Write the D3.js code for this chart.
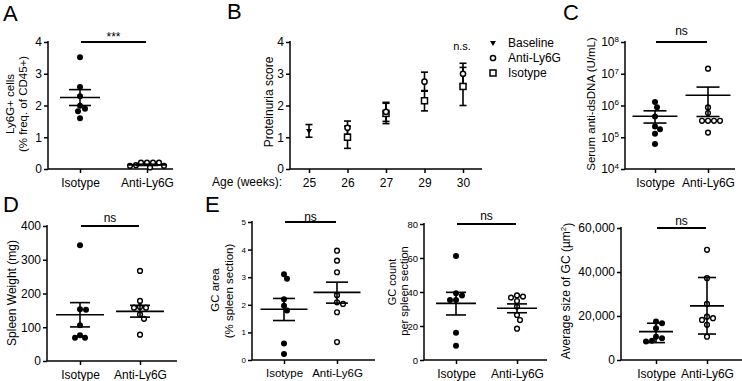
<!DOCTYPE html>
<html>
<head>
<meta charset="utf-8">
<script src="https://cdn.jsdelivr.net/npm/d3@7"></script>
<style>
  body { margin: 0; background: #fff; }
  text { font-family: Arial, "Liberation Sans", sans-serif; fill: #000; }
</style>
</head>
<body>
<svg id="fig" width="742" height="381"></svg>
<script>
// ---- data ----
const groups = ["Isotype", "Anti-Ly6G"];

// A: Ly6G+ cells (% of CD45+)
const ly6gIso = [3.52, 2.58, 2.29, 1.99, 1.9, 1.82, 1.6];
const ly6gAnti = [0.2, 0.2, 0.12, 0.1, 0.05, 0.1, 0.2, 0.2];
const ly6gMean = [2.25, 0.13];
const ly6gErr = [[2.0, 2.5], [0.11, 0.15]];

// B: proteinuria score by age
const weeks = ["25", "26", "27", "29", "30"];
const baselineMean = [1.2, null, null, null, null];
const baselineErr = [0.2, null, null, null, null];
const antiMean = [null, 1.3, 1.8, 2.75, 3.0];
const antiErr = [null, 0.21, 0.3, 0.3, 0.33];
const isoMean = [null, 1.0, 1.75, 2.15, 2.6];
const isoErr = [null, 0.35, 0.32, 0.32, 0.6];

// C: serum anti-dsDNA (U/mL)
const dsdnaIso = [1.3e6, 8.8e5, 4.5e5, 1.8e5, 2.2e5, 1.3e5, 6.1e4];
const dsdnaAnti = [1.45e7, 8.7e5, 5.8e5, 3.3e5, 3.3e5, 3.3e5, 3.3e5, 1.4e5];
const dsdnaMean = [4.6e5, 2.1e6];
const dsdnaErr = [[2.8e5, 6.8e5], [4.5e5, 3.8e6]];

// D: spleen weight (mg)
const spleenIso = [343, 152, 153, 106, 76, 69, 69];
const spleenAnti = [267, 178, 158, 158, 160, 138, 125, 78];
const spleenMean = [137, 147];
const spleenErr = [[101, 173], [130, 165]];

// E: GC area (% spleen section)
const gcAreaIso = [2.94, 3.11, 2.2, 1.79, 1.97, 0.6, 0.22];
const gcAreaAnti = [3.96, 3.6, 3.18, 2.35, 2.09, 2.03, 1.73, 0.65];
const gcAreaMean = [1.84, 2.45];
const gcAreaErr = [[1.43, 2.23], [2.06, 2.82]];

// E: GC count per spleen section
const gcCountIso = [61.2, 38, 39.2, 35.3, 35.3, 16, 8.4];
const gcCountAnti = [38, 36.7, 34.7, 37.3, 31.4, 26.5, 23.5, 18.4];
const gcCountMean = [33.3, 30.4];
const gcCountErr = [[26.5, 39.8], [27.8, 33]];

// E: average GC size (um^2)
const gcSizeIso = [16700, 17500, 14400, 10600, 9900, 8800, 8400];
const gcSizeAnti = [50100, 37200, 25500, 18200, 19700, 19000, 16000, 10600];
const gcSizeMean = [12900, 24600];
const gcSizeErr = [[7900, 16700], [11800, 37500]];

const svg = d3.select("#fig");

function styleAxis(g, fontSize) {
  g.selectAll("path.domain").remove();
  g.selectAll("line").attr("stroke", "#000").attr("stroke-width", 1.5);
  g.selectAll("text").attr("font-size", fontSize).attr("fill", "#000")
    .attr("font-family", "Arial, 'Liberation Sans', sans-serif");
}

// simple dodge so points sit side by side
function dodge(values, y, cx, minDist) {
  const order = values.map((v, i) => i).sort((a, b) => values[b] - values[a]);
  const placed = [];
  const out = [];
  for (const i of order) {
    const py = y(values[i]);
    let dx = 0;
    for (let k = 0; k < 80; k++) {
      const c = k === 0 ? 0 : (k % 2 ? 1 : -1) * Math.ceil(k / 2);
      if (placed.every(p => Math.hypot(p.x - c, p.y - py) >= minDist)) { dx = c; break; }
    }
    placed.push({ x: dx, y: py });
    out[i] = cx + dx;
  }
  return out;
}

function yTitle(x, cy, lines, size) {
  lines.forEach((t, i) => {
    const tx = svg.append("text")
      .attr("transform", `translate(${x[i]},${cy[i]}) rotate(-90)`)
      .attr("text-anchor", "middle")
      .attr("font-size", size);
    if (typeof t === "string") tx.text(t);
    else t(tx);
  });
}

function dotPanel(p) {
  const y = (p.log ? d3.scaleLog() : d3.scaleLinear()).domain(p.domain).range([p.bottom, p.top]);
  const x = d3.scalePoint().domain(groups).range(p.cats);

  // y axis
  const ya = svg.append("g").attr("transform", `translate(${p.x0},0)`)
    .call(d3.axisLeft(y).tickValues(p.ticks).tickSize(4).tickPadding(2).tickFormat(p.fmt || d3.format("d")));
  styleAxis(ya, p.tickFont);
  if (p.log) {
    ya.selectAll("text").text(null).each(function (d) {
      const t = d3.select(this);
      t.append("tspan").text("10");
      t.append("tspan").attr("dy", "-0.55em").attr("font-size", 8).text(Math.round(Math.log10(d)));
    });
  }
  svg.append("line").attr("x1", p.x0).attr("x2", p.x0).attr("y1", p.top - 1).attr("y2", p.bottom)
    .attr("stroke", "#000").attr("stroke-width", 1.5);

  // x axis
  const xa = svg.append("g").attr("transform", `translate(0,${p.bottom})`)
    .call(d3.axisBottom(x).tickSize(4).tickPadding(5));
  styleAxis(xa, p.catFont || 12);
  svg.append("line").attr("x1", p.x0).attr("x2", p.xEnd).attr("y1", p.bottom).attr("y2", p.bottom)
    .attr("stroke", "#000").attr("stroke-width", 1.5);

  // points
  const r = p.r || 3;
  [p.iso, p.anti].forEach((vals, gi) => {
    const xs = dodge(vals, y, x(groups[gi]), 2 * r - 0.5);
    svg.append("g").selectAll("circle").data(vals).join("circle")
      .attr("cx", (d, i) => xs[i]).attr("cy", d => y(d))
      .attr("r", gi === 0 ? r : r - 0.6)
      .attr("fill", gi === 0 ? "#000" : "#fff")
      .attr("stroke", "#000").attr("stroke-width", gi === 0 ? 0 : 1.4);
  });

  // mean and error bars
  groups.forEach((gname, gi) => {
    const cx = x(gname);
    const g = svg.append("g").attr("stroke", "#000").attr("stroke-width", 1.6);
    g.append("line").attr("x1", cx - p.meanW / 2).attr("x2", cx + p.meanW / 2)
      .attr("y1", y(p.mean[gi])).attr("y2", y(p.mean[gi]));
    g.append("line").attr("x1", cx).attr("x2", cx)
      .attr("y1", y(p.err[gi][0])).attr("y2", y(p.err[gi][1]));
    p.err[gi].forEach(v => g.append("line")
      .attr("x1", cx - p.capW / 2).attr("x2", cx + p.capW / 2).attr("y1", y(v)).attr("y2", y(v)));
  });

  // significance bar
  const sy = y(p.domain[1]);
  svg.append("line").attr("x1", x(groups[0]) + 1).attr("x2", x(groups[1]) - 1)
    .attr("y1", sy).attr("y2", sy).attr("stroke", "#000").attr("stroke-width", 2);
  svg.append("text").attr("x", (x(groups[0]) + x(groups[1])) / 2).attr("y", sy + p.sigDy)
    .attr("text-anchor", "middle").attr("font-size", 12).text(p.sig);
}

// ---- panel A ----
dotPanel({ x0: 48, top: 42, bottom: 169, xEnd: 173, cats: [80, 147], domain: [0, 4], ticks: [0, 1, 2, 3, 4],
  tickFont: 12, iso: ly6gIso, anti: ly6gAnti, mean: ly6gMean, err: ly6gErr, meanW: 40, capW: 22,
  sig: "***", sigDy: -1 });
yTitle([14, 27], [104, 104], ["Ly6G+ cells", "(% freq. of CD45+)"], 11.5);

// ---- panel C ----
dotPanel({ x0: 625, top: 42, bottom: 169, xEnd: 735, cats: [655, 708], domain: [1e4, 1e8], log: true,
  ticks: [1e4, 1e5, 1e6, 1e7, 1e8], tickFont: 12, iso: dsdnaIso, anti: dsdnaAnti, mean: dsdnaMean,
  err: dsdnaErr, meanW: 45, capW: 23, sig: "ns", sigDy: -7 });
yTitle([595], [104], ["Serum anti-dsDNA (U/mL)"], 11.5);

// ---- panel D ----
dotPanel({ x0: 47, top: 226, bottom: 361, xEnd: 177, cats: [80, 140], domain: [0, 400], ticks: [0, 100, 200, 300, 400],
  tickFont: 12, iso: spleenIso, anti: spleenAnti, mean: spleenMean, err: spleenErr, meanW: 48, capW: 20,
  sig: "ns", sigDy: -4 });
yTitle([16], [293], ["Spleen Weight (mg)"], 12);

// ---- panel E ----
dotPanel({ x0: 252, top: 222, bottom: 360, xEnd: 375, cats: [284, 337], domain: [0, 5], ticks: [0, 1, 2, 3, 4, 5],
  tickFont: 8, catFont: 11.5, iso: gcAreaIso, anti: gcAreaAnti, mean: gcAreaMean, err: gcAreaErr,
  meanW: 47, capW: 22, sig: "ns", sigDy: -1 });
yTitle([219, 233], [290, 291], ["GC area", "(% spleen section)"], 11.5);

dotPanel({ x0: 424, top: 224, bottom: 360, xEnd: 547, cats: [456, 517], domain: [0, 80], ticks: [0, 20, 40, 60, 80],
  tickFont: 9.5, iso: gcCountIso, anti: gcCountAnti, mean: gcCountMean, err: gcCountErr,
  meanW: 40, capW: 20, sig: "ns", sigDy: -4 });
yTitle([396, 408], [282, 291], ["GC count", "per spleen section"], 11);

dotPanel({ x0: 621, top: 228, bottom: 360, xEnd: 742, cats: [656, 707], domain: [0, 60000],
  ticks: [0, 20000, 40000, 60000], fmt: d3.format(","), tickFont: 12, iso: gcSizeIso, anti: gcSizeAnti,
  mean: gcSizeMean, err: gcSizeErr, meanW: 34, capW: 18, sig: "ns", sigDy: -3 });
yTitle([570], [291], [t => {
  t.append("tspan").text("Average size of GC (\u00b5m");
  t.append("tspan").attr("dy", "-0.45em").attr("font-size", 8).text("2");
  t.append("tspan").attr("dy", "0.45em").text(")");
}], 12);

// ---- panel B ----
(function () {
  const x0 = 290, top = 42, bottom = 169, xEnd = 482;
  const y = d3.scaleLinear().domain([0, 4]).range([bottom, top]);
  const x = d3.scalePoint().domain(weeks).range([309, 463]);

  const ya = svg.append("g").attr("transform", `translate(${x0},0)`)
    .call(d3.axisLeft(y).ticks(4).tickSize(4).tickPadding(2));
  styleAxis(ya, 12);
  svg.append("line").attr("x1", x0).attr("x2", x0).attr("y1", top - 1).attr("y2", bottom)
    .attr("stroke", "#000").attr("stroke-width", 1.5);
  const xa = svg.append("g").attr("transform", `translate(0,${bottom})`)
    .call(d3.axisBottom(x).tickSize(4).tickPadding(5));
  styleAxis(xa, 12);
  svg.append("line").attr("x1", x0).attr("x2", xEnd).attr("y1", bottom).attr("y2", bottom)
    .attr("stroke", "#000").attr("stroke-width", 1.5);
  svg.append("text").attr("x", 282).attr("y", 186).attr("text-anchor", "end").attr("font-size", 12)
    .text("Age (weeks):");
  yTitle([273], [102], ["Proteinuria score"], 12);

  const series = [
    { m: baselineMean, e: baselineErr, shape: "tri" },
    { m: isoMean, e: isoErr, shape: "sq" },
    { m: antiMean, e: antiErr, shape: "circ" }
  ];
  const eg = svg.append("g").attr("stroke", "#000").attr("stroke-width", 1.6);
  series.forEach(s => weeks.forEach((w, i) => {
    if (s.m[i] == null) return;
    const cx = x(w), lo = y(s.m[i] - s.e[i]), hi = y(s.m[i] + s.e[i]);
    eg.append("line").attr("x1", cx).attr("x2", cx).attr("y1", lo).attr("y2", hi);
    [lo, hi].forEach(v => eg.append("line").attr("x1", cx - 3.5).attr("x2", cx + 3.5).attr("y1", v).attr("y2", v));
  }));

  function marker(g, shape, cx, cy) {
    if (shape === "circ") g.append("circle").attr("cx", cx).attr("cy", cy).attr("r", 2.6)
      .attr("fill", "#fff").attr("stroke", "#000").attr("stroke-width", 1.5);
    else if (shape === "sq") g.append("rect").attr("x", cx - 3).attr("y", cy - 3).attr("width", 6).attr("height", 6)
      .attr("fill", "#fff").attr("stroke", "#000").attr("stroke-width", 1.5);
    else g.append("path").attr("d", `M${cx - 3},${cy - 2}L${cx + 3},${cy - 2}L${cx},${cy + 3}Z`).attr("fill", "#000");
  }
  const mg = svg.append("g");
  series.forEach(s => weeks.forEach((w, i) => {
    if (s.m[i] != null) marker(mg, s.shape, x(w), y(s.m[i]));
  }));

  svg.append("text").attr("x", 462).attr("y", 50).attr("text-anchor", "middle").attr("font-size", 11).text("n.s.");
  const legend = [["tri", "Baseline"], ["circ", "Anti-Ly6G"], ["sq", "Isotype"]];
  legend.forEach(([shape, label], i) => {
    marker(svg, shape, 493, 43 + i * 15);
    svg.append("text").attr("x", 508).attr("y", 47 + i * 15).attr("font-size", 12).text(label);
  });
})();

// ---- panel letters ----
[["A", 3, 21], ["B", 227, 19], ["C", 563, 20], ["D", 3, 212], ["E", 205, 212]].forEach(([t, lx, ly]) =>
  svg.append("text").attr("x", lx).attr("y", ly).attr("font-size", 22).text(t));
</script>
</body>
</html>
